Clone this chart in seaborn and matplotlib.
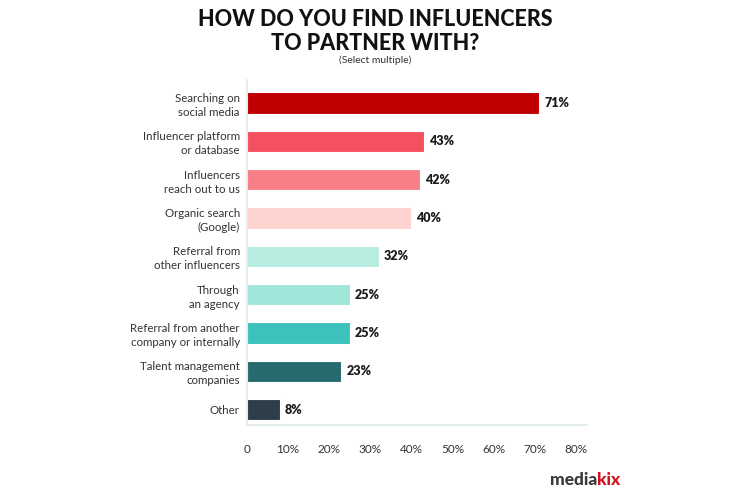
import matplotlib
matplotlib.use("Agg")
import matplotlib.pyplot as plt
import seaborn as sns
import pandas as pd

categories = [
    "Searching on\nsocial media",
    "Influencer platform\nor database",
    "Influencers\nreach out to us",
    "Organic search\n(Google)",
    "Referral from\nother influencers",
    "Through\nan agency",
    "Referral from another\ncompany or internally",
    "Talent management\ncompanies",
    "Other",
]
values = [71, 43, 42, 40, 32, 25, 25, 23, 8]
colors = ["#C00000", "#F5505F", "#F87E87", "#FDD2CF", "#B6EDE0",
          "#A0E6DB", "#3CC1BD", "#276A6E", "#2D3E48"]
tick_vals = [0, 10, 20, 30, 40, 50, 60, 70, 80]
tick_labels = ["0", "10%", "20%", "30%", "40%", "50%", "60%", "70%", "80%"]

sns.set_theme(style="white")
plt.rcParams["font.family"] = ["Lato", "DejaVu Sans"]

df = pd.DataFrame({"cat": categories, "val": values})

fig = plt.figure(figsize=(7.5, 5), dpi=100)
ax = fig.add_axes([0.329, 0.15, 0.453, 0.69])
sns.barplot(data=df, y="cat", x="val", hue="cat", palette=colors,
            saturation=1, legend=False, ax=ax, width=0.56,
            edgecolor="white", linewidth=0.8)

for i, v in enumerate(values):
    ax.text(v + 1.2, i, f"{v}%", va="center", ha="left", fontsize=9,
            fontweight="heavy", color="#1a1a1a")

ax.set_xlim(0, 82.5)
ax.set_ylim(8.4, -0.6)
ax.set_xticks(tick_vals)
ax.set_xticklabels(tick_labels, fontsize=8.5, color="#333333")
ax.tick_params(axis="x", length=4, color="#dde8ea", pad=10)
ax.tick_params(axis="y", length=0, pad=5, labelsize=8.3, labelcolor="#333333")
for lab in ax.get_yticklabels():
    lab.set_horizontalalignment("right")
    lab.set_multialignment("right")
    lab.set_linespacing(1.35)
ax.set_xlabel("")
ax.set_ylabel("")
for s in ["top", "right"]:
    ax.spines[s].set_visible(False)
ax.spines["left"].set_color("#dde8ea")
ax.spines["bottom"].set_color("#dde8ea")
ax.spines["left"].set_linewidth(1.2)
ax.spines["bottom"].set_linewidth(1.2)

fig.text(0.5, 1 - 20 / 500, "HOW DO YOU FIND INFLUENCERS", ha="center",
         va="center", fontsize=15.5, fontweight="black", color="#111111")
fig.text(0.5, 1 - 44 / 500, "TO PARTNER WITH?", ha="center",
         va="center", fontsize=15.5, fontweight="black", color="#111111")
fig.text(0.5, 1 - 60 / 500, "(Select multiple)", ha="center", va="center",
         fontsize=7.5, color="#333333")

t1 = fig.text(0.733, 0.04, "media", ha="left", va="center", fontsize=12.5,
              fontweight="black", color="#3a3a3a")
fig.canvas.draw()
bb = t1.get_window_extent()
fig.text(bb.x1 / fig.bbox.width, 0.04, "kix", ha="left", va="center",
         fontsize=12.5, fontweight="black", color="#D0101E")

fig.savefig("out.png", dpi=100, facecolor="white")
